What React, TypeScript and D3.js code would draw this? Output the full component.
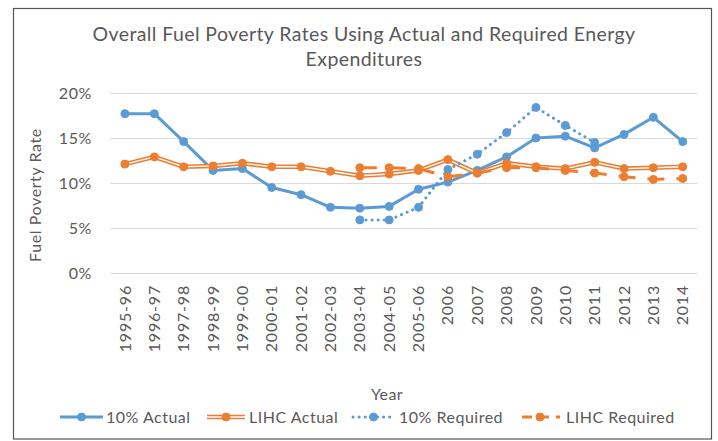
import { useEffect, useRef } from "react";
import * as d3 from "d3";

const years = [
  "1995-96", "1996-97", "1997-98", "1998-99", "1999-00", "2000-01", "2001-02",
  "2002-03", "2003-04", "2004-05", "2005-06", "2006", "2007", "2008", "2009",
  "2010", "2011", "2012", "2013", "2014",
];

const actual10 = [
  17.7, 17.7, 14.6, 11.4, 11.6, 9.5, 8.7, 7.3, 7.2, 7.4, 9.3, 10.1, 11.4, 12.9,
  15.0, 15.2, 13.9, 15.4, 17.3, 14.6,
];
const actualLihc = [
  12.1, 12.9, 11.8, 11.9, 12.2, 11.8, 11.8, 11.3, 10.8, 11.0, 11.4, 12.6, 11.1,
  12.2, 11.8, 11.6, 12.3, 11.6, 11.7, 11.8,
];
const required10 = [
  null, null, null, null, null, null, null, null, 5.9, 5.9, 7.3, 11.5, 13.2,
  15.6, 18.4, 16.4, 14.5, null, null, null,
];
const requiredLihc = [
  null, null, null, null, null, null, null, null, 11.7, 11.7, 11.6, 10.7, 11.1,
  11.7, 11.7, 11.4, 11.1, 10.7, 10.4, 10.5,
];

const yTicks = [0, 5, 10, 15, 20];

const BLUE = "#5B9BD5";
const ORANGE = "#ED7D31";
const TEXT = "#595959";
const FONT = "Lato, 'Open Sans', sans-serif";

export default function App() {
  const ref = useRef<SVGSVGElement>(null);

  useEffect(() => {
    const svg = d3.select(ref.current);
    svg.selectAll("*").remove();

    const left = 110.3;
    const right = 697.4;
    const top = 93;
    const bottom = 273;

    const x = d3.scalePoint().domain(years).range([left, right]).padding(0.5);
    const y = d3.scaleLinear().domain([0, 20]).range([bottom, top]);

    // outer border
    svg
      .append("rect")
      .attr("x", 13.5)
      .attr("y", 8.5)
      .attr("width", 698)
      .attr("height", 430.5)
      .attr("fill", "#fff")
      .attr("stroke", "#555")
      .attr("stroke-width", 1.2);

    // title
    const title = svg
      .append("text")
      .attr("text-anchor", "middle")
      .style("font-family", FONT)
      .style("font-size", "19.5px")
      .style("letter-spacing", "0.4px")
      .style("fill", TEXT);
    title.append("tspan").attr("x", 364).attr("y", 41).text("Overall Fuel Poverty Rates Using Actual and Required Energy");
    title.append("tspan").attr("x", 364).attr("y", 66).text("Expenditures");

    // gridlines
    svg
      .append("g")
      .selectAll("line")
      .data(yTicks)
      .enter()
      .append("line")
      .attr("x1", left)
      .attr("x2", right)
      .attr("y1", (d) => Math.round(y(d)) + 0.5)
      .attr("y2", (d) => Math.round(y(d)) + 0.5)
      .attr("stroke", "#D9D9D9")
      .attr("stroke-width", 1);

    // y tick labels
    svg
      .append("g")
      .selectAll("text")
      .data(yTicks)
      .enter()
      .append("text")
      .attr("x", 92)
      .attr("y", (d) => y(d))
      .attr("dy", "0.35em")
      .attr("text-anchor", "end")
      .style("font-family", FONT)
      .style("font-size", "16px")
      .style("letter-spacing", "0.6px")
      .style("fill", TEXT)
      .text((d) => `${d}%`);

    // x tick labels
    svg
      .append("g")
      .selectAll("text")
      .data(years)
      .enter()
      .append("text")
      .attr("transform", (d) => `translate(${x(d)},${285}) rotate(-90)`)
      .attr("dy", "0.35em")
      .attr("text-anchor", "end")
      .style("font-family", FONT)
      .style("font-size", "16px")
      .style("letter-spacing", "0.8px")
      .style("fill", TEXT)
      .text((d) => d);

    // axis titles
    svg
      .append("text")
      .attr("transform", `translate(41,195) rotate(-90)`)
      .attr("text-anchor", "middle")
      .style("font-family", FONT)
      .style("font-size", "16px")
      .style("letter-spacing", "0.6px")
      .style("fill", TEXT)
      .text("Fuel Poverty Rate");

    svg
      .append("text")
      .attr("x", 387)
      .attr("y", 400)
      .attr("text-anchor", "middle")
      .style("font-family", FONT)
      .style("font-size", "16px")
      .style("letter-spacing", "0.4px")
      .style("fill", TEXT)
      .text("Year");

    const line = d3
      .line<number | null>()
      .defined((d) => d != null)
      .x((_, i) => x(years[i])!)
      .y((d) => y(d as number));

    const plot = svg.append("g");

    const drawMarkers = (vals: (number | null)[], color: string) => {
      plot
        .append("g")
        .selectAll("circle")
        .data(vals.map((v, i) => ({ v, i })).filter((d) => d.v != null))
        .enter()
        .append("circle")
        .attr("cx", (d) => x(years[d.i])!)
        .attr("cy", (d) => y(d.v as number))
        .attr("r", 4)
        .attr("fill", color)
        .attr("stroke", color)
        .attr("stroke-width", 1);
    };

    // 10% Actual
    plot
      .append("path")
      .attr("d", line(actual10))
      .attr("fill", "none")
      .attr("stroke", BLUE)
      .attr("stroke-width", 3)
      .attr("stroke-linejoin", "round");
    drawMarkers(actual10, BLUE);

    // LIHC Actual (double line)
    plot
      .append("path")
      .attr("d", line(actualLihc))
      .attr("fill", "none")
      .attr("stroke", ORANGE)
      .attr("stroke-width", 4.5)
      .attr("stroke-linejoin", "round");
    plot
      .append("path")
      .attr("d", line(actualLihc))
      .attr("fill", "none")
      .attr("stroke", "#fff")
      .attr("stroke-width", 1.4)
      .attr("stroke-linejoin", "round");
    drawMarkers(actualLihc, ORANGE);

    // 10% Required (round dots)
    plot
      .append("path")
      .attr("d", line(required10))
      .attr("fill", "none")
      .attr("stroke", BLUE)
      .attr("stroke-width", 3)
      .attr("stroke-linecap", "round")
      .attr("stroke-dasharray", "0.1,6");
    drawMarkers(required10, BLUE);

    // LIHC Required (dashed)
    plot
      .append("path")
      .attr("d", line(requiredLihc))
      .attr("fill", "none")
      .attr("stroke", ORANGE)
      .attr("stroke-width", 3)
      .attr("stroke-dasharray", "17,12");
    drawMarkers(requiredLihc, ORANGE);

    // legend
    const legendItems = [
      { label: "10% Actual", x1: 60, x2: 103, tx: 106, kind: "solid", color: BLUE },
      { label: "LIHC Actual", x1: 207, x2: 245, tx: 249, kind: "double", color: ORANGE },
      { label: "10% Required", x1: 353, x2: 394, tx: 399, kind: "dot", color: BLUE },
      { label: "LIHC Required", x1: 520, x2: 560, tx: 566, kind: "dash", color: ORANGE },
    ];
    const ly = 417;
    const legend = svg.append("g");
    legendItems.forEach((it) => {
      const g = legend.append("g");
      const seg = g
        .append("line")
        .attr("x1", it.x1)
        .attr("x2", it.x2)
        .attr("y1", ly)
        .attr("y2", ly)
        .attr("stroke", it.color)
        .attr("stroke-width", it.kind === "double" ? 4.5 : 3);
      if (it.kind === "dot") {
        seg.attr("stroke-linecap", "round").attr("stroke-dasharray", "0.1,6");
      }
      if (it.kind === "dash") {
        seg.attr("stroke-dasharray", "10,7").attr("stroke-dashoffset", -2);
      }
      if (it.kind === "double") {
        g.append("line")
          .attr("x1", it.x1)
          .attr("x2", it.x2)
          .attr("y1", ly)
          .attr("y2", ly)
          .attr("stroke", "#fff")
          .attr("stroke-width", 1.4);
      }
      g.append("circle")
        .attr("cx", (it.x1 + it.x2) / 2)
        .attr("cy", ly)
        .attr("r", 4)
        .attr("fill", it.color)
        .attr("stroke", it.color);
      g.append("text")
        .attr("x", it.tx)
        .attr("y", ly)
        .attr("dy", "0.35em")
        .style("font-family", FONT)
        .style("font-size", "16px")
        .style("letter-spacing", "0.5px")
        .style("fill", TEXT)
        .text(it.label);
    });
  }, []);

  return (
    <svg
      ref={ref}
      width={718}
      height={441}
      style={{ position: "absolute", left: 0, top: 0, background: "#fff" }}
    />
  );
}
